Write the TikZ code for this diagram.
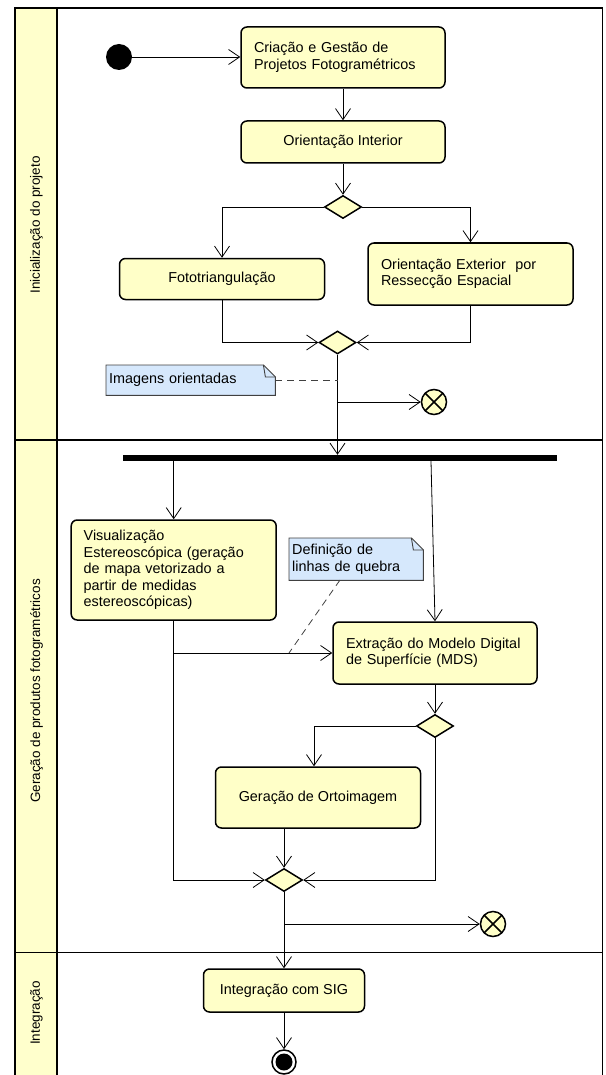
\documentclass[tikz,border=0pt]{standalone}
\usepackage{fontspec}
\setmainfont{Liberation Sans}
\usetikzlibrary{arrows.meta,shapes.geometric,calc}
\definecolor{actfill}{HTML}{FFFFC8}
\definecolor{lanefill}{HTML}{FFFFCC}
\definecolor{notefill}{HTML}{D6E8FC}
\definecolor{notedraw}{HTML}{404040}
\begin{document}
\begin{tikzpicture}[x=1pt,y=-1pt,
  txt/.style={font=\fontsize{14.4}{16.5}\selectfont},
  act/.style={txt, draw, line width=1.5pt, rounded corners=6pt, fill=actfill, inner sep=0pt, align=center},
  dec/.style={diamond, draw, line width=1.5pt, fill=actfill, minimum width=37pt, minimum height=23pt, inner sep=0pt},
  flow/.style={line width=0.8pt, -{Straight Barb[length=11pt,width=15pt,line width=0.8pt]}},
  notebox/.style={txt, fill=notefill, inner ysep=0pt, inner xsep=3pt, align=left, anchor=north west},
  noteline/.style={draw=notedraw, line width=0.9pt},
  dashlink/.style={draw=notedraw, line width=0.8pt, dash pattern=on 7pt off 5pt},
  lane/.style={font=\fontsize{13.5}{16}\selectfont, rotate=90},
  frame/.style={line width=1.6pt},
  ffinal/.style={circle, draw, line width=1.5pt, fill=actfill, minimum size=25pt, inner sep=0pt,
    path picture={\draw[line width=1.5pt]
      ($(path picture bounding box.center)+(45:12.5)$) -- ($(path picture bounding box.center)+(225:12.5)$)
      ($(path picture bounding box.center)+(135:12.5)$) -- ($(path picture bounding box.center)+(315:12.5)$);}},
]
\useasboundingbox (0,0) rectangle (605,1075);
% frame and lanes
\fill[lanefill] (15,8) rectangle (57,1075);
\draw[frame] (15,1075) -- (15,8) -- (602.5,8) -- (602.5,1075);
\draw[frame] (57,8) -- (57,1075);
\draw[frame] (15,440) -- (602.5,440);
\draw[frame] (15,952.5) -- (602.5,952.5);
\node[lane] (l1) at (36.5,225) {Inicialização do projeto};
\node[lane] (l2) at (36.5,691) {Geração de produtos fotogramétricos};
\node[lane] (l3) at (36.5,1013) {Integração};

% nodes
\node[circle, fill=black, minimum size=26pt, inner sep=0pt] (start) at (119,57) {};
\node[act, minimum width=204pt, minimum height=61pt, text width=178pt, align=left] (crea) at (343,57.5) {Criação e Gestão de\\Projetos Fotogramétricos};
\node[act, minimum width=204pt, minimum height=42pt] (oi) at (343,142) {Orientação Interior};
\node[dec] (d1) at (343,207) {};
\node[act, minimum width=205pt, minimum height=41pt] (foto) at (222,279) {Fototriangulação};
\node[act, minimum width=205pt, minimum height=62pt, text width=179pt, align=left] (oe) at (470.5,274) {Orientação Exterior\ \ por\\Ressecção Espacial};
\node[dec] (d2) at (337.5,342.5) {};
\node[notebox, minimum width=169pt, minimum height=30pt, text width=163pt] (n1) at (106,365) {Imagens orientadas};
\node[ffinal] (ff1) at (434,402) {};
\node[fill=black, minimum width=434pt, minimum height=6pt, inner sep=0pt] (bar) at (340,458) {};
\node[act, minimum width=205pt, minimum height=100pt, text width=180pt, align=left] (vis) at (173.7,570) {Visualização\\Estereoscópica (geração\\de mapa vetorizado a\\partir de medidas\\estereoscópicas)};
\node[notebox, minimum width=134pt, minimum height=42pt, text width=128pt] (n2) at (289,538) {Definição de\\linhas de quebra};
\node[act, minimum width=204pt, minimum height=62pt, text width=178pt, align=left] (ext) at (435,653) {Extração do Modelo Digital\\de Superfície (MDS)};
\node[dec] (d3) at (435,726) {};
\node[act, minimum width=205pt, minimum height=61pt] (orto) at (318,797.5) {Geração de Ortoimagem};
\node[dec] (d4) at (284,880) {};
\node[ffinal] (ff2) at (493,924) {};
\node[act, minimum width=161pt, minimum height=43pt] (integ) at (284,990.5) {Integração com SIG};
\node[circle, draw, line width=1.5pt, fill=white, minimum size=24pt, inner sep=0pt] (end) at (284,1062) {};
\fill (end.center) circle (8.5pt);

% note outlines
\foreach \n in {n1,n2}{
  \fill[white] ($(\n.north east)+(-12,0)$) -- (\n.north east) -- ($(\n.north east)+(0,12)$) -- cycle;
  \draw[noteline] (\n.south west) -- (\n.north west) -- ($(\n.north east)+(-12,0)$) -- ($(\n.north east)+(0,12)$) -- (\n.south east) -- cycle;
  \draw[noteline] ($(\n.north east)+(-12,0)$) -- ($(\n.north east)+(-10,12)$) -- ($(\n.north east)+(0,12)$);
}

% connectors
\draw[flow] (start.east) -- (start.east -| crea.west);
\draw[flow] (crea.south) -- (oi.north);
\draw[flow] (oi.south) -- (d1.north);
\draw[flow] (d1.west) -| (foto.north);
\draw[flow] (d1.east) -| (oe.north);
\draw[flow] (foto.south) |- (d2.west);
\draw[flow] (oe.south) |- (d2.east);
\draw[flow] (d2.south) -- (d2.south |- bar.north);
\coordinate (b1) at (d2.south |- ff1.west);
\draw[flow] (b1) -- (ff1.west);
\draw[dashlink] (n1.east) -- (n1.east -| d2.south);
\draw[flow] (bar.south -| vis.north) -- (vis.north);
\draw[flow] ([xshift=-4pt]bar.south -| ext.north) -- (ext.north);
\draw[flow] (vis.south) |- (d4.west);
\coordinate (b2) at (vis.south |- ext.west);
\draw[flow] (b2) -- (ext.west);
\coordinate (n2a) at (340,580);
\coordinate (n2b) at (289,653);
\draw[dashlink] (n2a) -- (n2b);
\draw[flow] (ext.south) -- (d3.north);
\draw[flow] (d3.west) -| ([xshift=-4pt]orto.north);
\draw[flow] (d3.south) |- (d4.east);
\draw[flow] (d4.north |- orto.south) -- (d4.north);
\draw[flow] (d4.south) -- (integ.north);
\coordinate (b3) at (d4.south |- ff2.west);
\draw[flow] (b3) -- (ff2.west);
\draw[flow] (integ.south) -- (end.north);
\end{tikzpicture}
\end{document}
